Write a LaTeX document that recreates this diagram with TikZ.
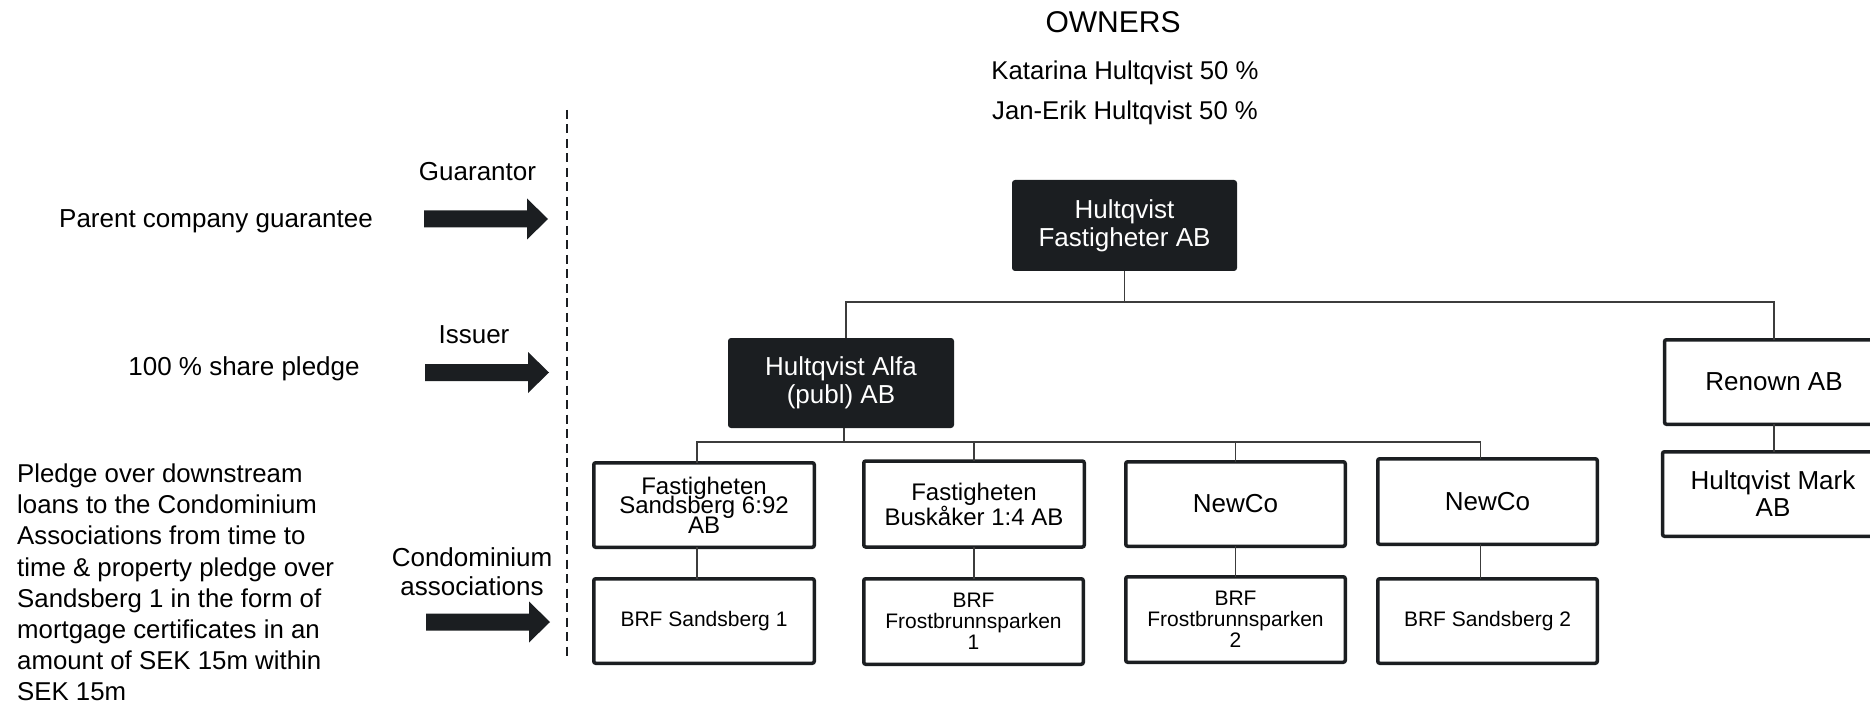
\documentclass[tikz,border=0pt]{standalone}
\usepackage{fontspec}
\setmainfont{Liberation Sans}
\definecolor{dark}{RGB}{27,30,33}
\definecolor{connc}{RGB}{60,60,60}
\begin{document}
\begin{tikzpicture}[x=1pt,y=-1pt,
  darkbox/.style={fill=dark, text=white, rounded corners=3pt, inner sep=0pt, outer sep=0pt, align=center, font=\fontsize{26}{28}\selectfont},
  whitebox/.style={draw=dark, line width=3.5pt, fill=white, rounded corners=2pt, inner sep=0pt, outer sep=0pt, align=center, font=\fontsize{26}{27}\selectfont},
  brfbox/.style={whitebox, font={\fontsize{21}{21}\selectfont\lineskiplimit=-50pt}},
  conn/.style={draw=connc, line width=1.4pt},
  lbl/.style={inner sep=0pt, outer sep=0pt, anchor=base, font=\fontsize{26}{30}\selectfont},
  sep/.style={draw=dark, line width=2.7pt, dash pattern=on 9pt off 5.5pt},
  fatarrow/.pic={\fill[dark] (0,-8.5) -- (103,-8.5) -- (103,-20.5) -- (124,0) -- (103,20.5) -- (103,8.5) -- (0,8.5) -- cycle;}
]
\useasboundingbox (0,0) rectangle (1870,708);
\clip (0,0) rectangle (1870,708);

% owners
\node[lbl, font=\fontsize{30}{30}\selectfont] (owners) at (1113,33) {OWNERS};
\node[lbl, font=\fontsize{25.7}{30}\selectfont] (kat) at (1125,79.5) {Katarina Hultqvist 50 \%};
\node[lbl, font=\fontsize{25.7}{30}\selectfont] (jan) at (1125,120) {Jan-Erik Hultqvist 50 \%};

% left labels
\node[lbl] (guar) at (477.5,181) {Guarantor};
\node[lbl] (pcg) at (216,228) {Parent company guarantee};
\node[lbl] (iss) at (474,344) {Issuer};
\node[lbl] (spl) at (244,375) {100 \% share pledge};
\node[inner sep=0pt, anchor=north, align=center, font=\fontsize{26}{29}\selectfont] (condo) at (472,547.5) {Condominium\\associations};
\node[inner sep=0pt, anchor=north west, align=left, font=\fontsize{25.8}{31.2}\selectfont] (para) at (17,463.5)
  {Pledge over downstream\\loans to the Condominium\\Associations from time to\\time \& property pledge over\\Sandsberg 1 in the form of\\mortgage certificates in an\\amount of SEK 15m within\\SEK 15m};

% arrows
\pic at (424,219) {fatarrow};
\pic at (425,372.5) {fatarrow};
\pic at (426,622) {fatarrow};

% dashed separator
\coordinate (dtop) at (567,110);
\coordinate (dbot) at (567,657);
\draw[sep] (dtop) -- (dbot);

% boxes
\node[darkbox, minimum width=225pt, minimum height=91pt] (hf) at (1124.5,225.5) {Hultqvist\\Fastigheter AB};
\node[darkbox, minimum width=226pt, minimum height=90pt] (alfa) at (841,383) {Hultqvist Alfa\\(publ) AB};
\node[whitebox, minimum width=219pt, minimum height=84.5pt] (renown) at (1774,382) {Renown AB};
\node[whitebox, minimum width=221pt, minimum height=84.5pt] (mark) at (1773,494) {Hultqvist Mark\\AB};

\node[whitebox, font={\fontsize{24}{19.5}\selectfont\lineskiplimit=-50pt}, minimum width=220.5pt, minimum height=84.5pt] (fs) at (704,505) {Fastigheten\\Sandsberg 6:92\\AB};
\node[whitebox, font=\fontsize{24}{25}\selectfont, minimum width=220.5pt, minimum height=86pt] (fb) at (974,504) {Fastigheten\\Busk\r{a}ker 1:4 AB};
\node[whitebox, minimum width=219.5pt, minimum height=84.5pt] (nc1) at (1235.5,504) {NewCo};
\node[whitebox, minimum width=219.5pt, minimum height=85.5pt] (nc2) at (1487.5,501.5) {NewCo};

\node[brfbox, minimum width=220.5pt, minimum height=84.5pt] (bs1) at (704,621) {BRF Sandsberg 1};
\node[brfbox, minimum width=219.5pt, minimum height=85.5pt] (bf1) at (973.5,621.5) {BRF\\Frostbrunnsparken\\1};
\node[brfbox, minimum width=219.5pt, minimum height=85.5pt] (bf2) at (1235.5,619.5) {BRF\\Frostbrunnsparken\\2};
\node[brfbox, minimum width=219.5pt, minimum height=84.5pt] (bs2) at (1487.5,621) {BRF Sandsberg 2};

% connectors
\coordinate (j1) at (1124,302);
\coordinate (j2) at (844,442);
\draw[conn] (hf.south) -- (hf.south |- j1);
\draw[conn] ([xshift=5pt]alfa.north) |- (renown.north |- j1) -- (renown.north);
\draw[conn] ([xshift=3pt]alfa.south) -- ([xshift=3pt]alfa.south |- j2);
\draw[conn] ([xshift=-7pt]fs.north) |- ([xshift=-7pt]nc2.north |- j2) -- ([xshift=-7pt]nc2.north);
\draw[conn] (fb.north) -- (fb.north |- j2);
\draw[conn] (nc1.north) -- (nc1.north |- j2);
\draw[conn] ([xshift=-7pt]fs.south) -- ([xshift=-7pt]bs1.north);
\draw[conn] (fb.south) -- (fb.south |- bf1.north);
\draw[conn] (nc1.south) -- (nc1.south |- bf2.north);
\draw[conn] ([xshift=-7pt]nc2.south) -- ([xshift=-7pt]bs2.north);
\draw[conn] (renown.south) -- (renown.south |- mark.north);
\end{tikzpicture}
\end{document}
